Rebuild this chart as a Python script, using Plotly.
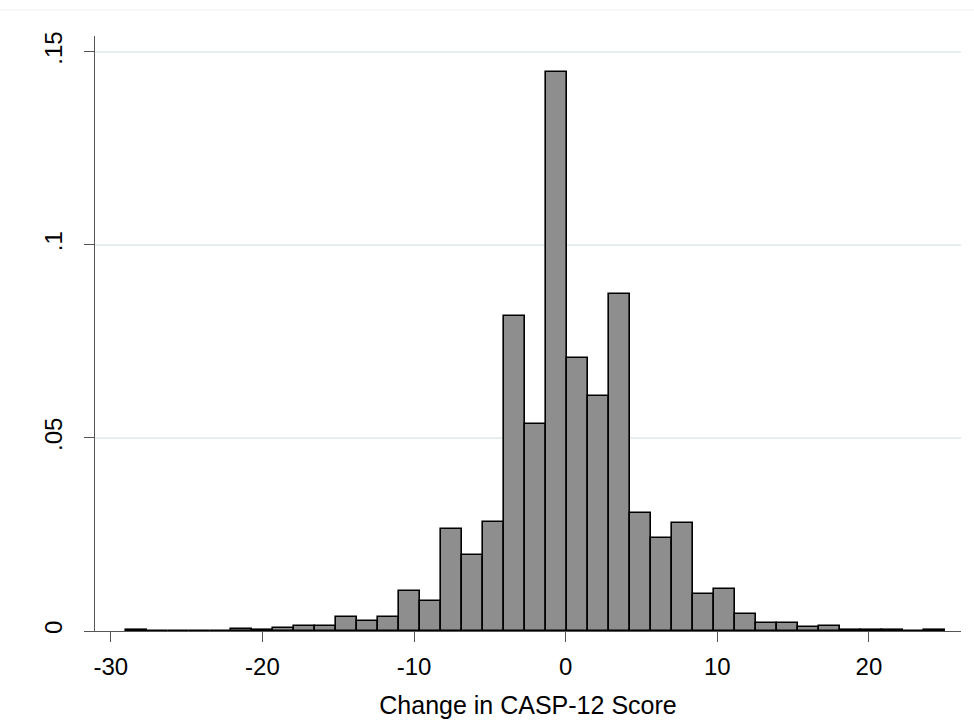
import plotly.graph_objects as go

# ---- data (density per bin) ----
bin_start = -29.0
bin_width = 54.0 / 39.0
density = [
    0.0003, 0.0, 0.0, 0.0, 0.0, 0.0004, 0.0002, 0.0009, 0.0013, 0.0014,
    0.0035, 0.0025, 0.0037, 0.0103, 0.0078, 0.0263, 0.0196, 0.0282, 0.0816, 0.0535,
    0.1447, 0.0706, 0.0609, 0.0873, 0.0305, 0.0240, 0.0280, 0.0096, 0.0110, 0.0044,
    0.0022, 0.0022, 0.0010, 0.0012, 0.0003, 0.0003, 0.0003, 0.0, 0.0003,
]
x_ticks = [-30, -20, -10, 0, 10, 20]
x_tick_text = ["-30", "-20", "-10", "0", "10", "20"]
y_ticks = [0, 0.05, 0.1, 0.15]
y_tick_text = ["0", ".05", ".1", ".15"]
x_title = "Change in CASP-12 Score"

centers = [bin_start + (i + 0.5) * bin_width for i in range(len(density))]

FONT = "Liberation Sans, Arial, sans-serif"

fig = go.Figure()
fig.add_trace(go.Bar(
    x=centers, y=density, width=bin_width,
    marker=dict(color="#8e8e8e", line=dict(color="#000000", width=1.6)),
    showlegend=False, hoverinfo="x+y",
))

fig.update_layout(
    width=974, height=724,
    margin=dict(l=95, r=13, t=36, b=93),
    paper_bgcolor="white", plot_bgcolor="white",
    font=dict(family=FONT, color="#000000", size=24),
    bargap=0,
    xaxis=dict(
        range=[-31.04, 26.07], automargin=False,
        tickmode="array", tickvals=x_ticks, ticktext=x_tick_text,
        ticks="outside", ticklen=10, tickwidth=1, tickcolor="#555555",
        showline=True, linecolor="#555555", linewidth=1.3,
        showgrid=False, zeroline=False,
        tickfont=dict(size=24),
        ticklabelstandoff=4,
        title=dict(text=x_title, font=dict(size=25), standoff=17),
    ),
    yaxis=dict(
        range=[0, 0.15406], automargin=False,
        tickmode="array", tickvals=y_ticks, ticktext=y_tick_text,
        ticks="outside", ticklen=10, tickwidth=1, tickcolor="#555555",
        tickangle=-90,
        showline=True, linecolor="#555555", linewidth=1.3,
        showgrid=True, gridcolor="#e6eef0", gridwidth=2,
        zeroline=False,
        tickfont=dict(size=24),
        ticklabelstandoff=12,
    ),
    shapes=[dict(type="line", xref="paper", yref="paper", x0=-0.2, x1=1.2,
                 y0=1.0 + 26/595, y1=1.0 + 26/595,
                 line=dict(color="#f2f2f2", width=1))],
)

fig.write_html("out.html")
